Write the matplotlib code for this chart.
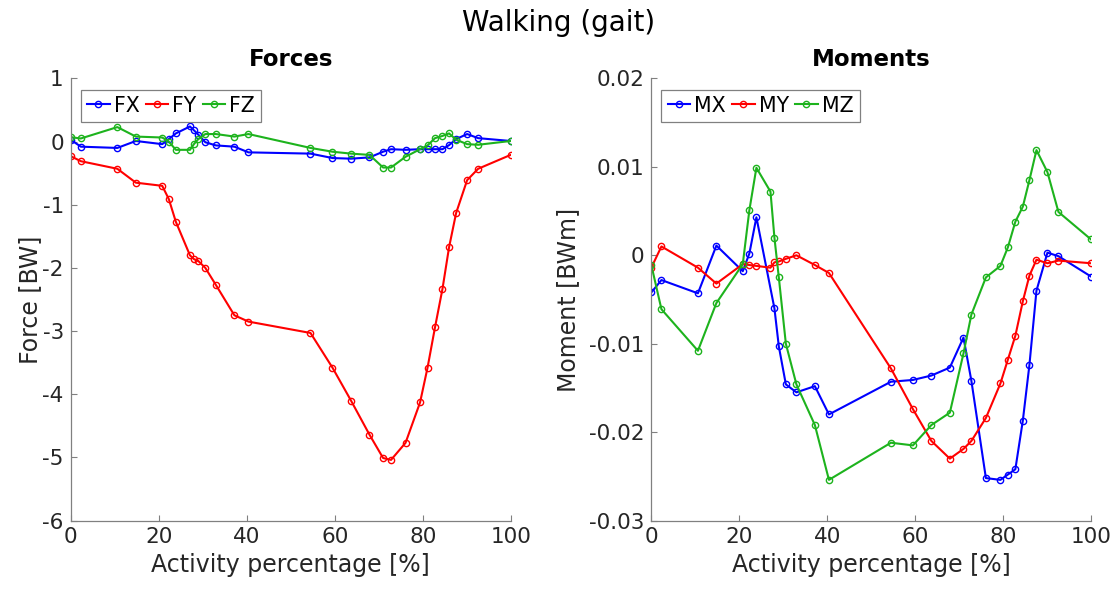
import numpy as np
import matplotlib.pyplot as plt

plt.rcParams['font.family'] = ['DejaVu Sans']
plt.rcParams['axes.unicode_minus'] = False

# activity percentage of each sample in the gait cycle
pct = [0, 2.3, 10.6, 14.8, 20.8, 22.3, 23.9, 27.1, 28.0, 29.0, 30.6, 33.0, 37.2, 40.4,
       54.5, 59.5, 63.7, 67.9, 71.0, 72.8, 76.1, 79.4, 81.1, 82.8, 84.5, 86.0, 87.6,
       90.1, 92.6, 100]
# MX has no sample at 27.1 %
pct_mx = [p for p in pct if p != 27.1]

# forces [BW]
fx = [0.03, -0.08, -0.10, 0.01, -0.04, 0.04, 0.13, 0.24, 0.18, 0.11, -0.01, -0.06, -0.08,
      -0.17, -0.19, -0.26, -0.27, -0.25, -0.16, -0.12, -0.13, -0.12, -0.12, -0.12, -0.12,
      -0.055, 0.04, 0.12, 0.055, 0.01]
fy = [-0.23, -0.31, -0.43, -0.65, -0.70, -0.91, -1.27, -1.80, -1.86, -1.89, -2.00, -2.27,
      -2.75, -2.85, -3.03, -3.58, -4.10, -4.64, -5.01, -5.04, -4.77, -4.13, -3.58, -2.94,
      -2.33, -1.67, -1.13, -0.61, -0.43, -0.21]
fz = [0.07, 0.05, 0.23, 0.08, 0.065, 0.0, -0.13, -0.13, -0.04, 0.04, 0.12, 0.12, 0.08,
      0.12, -0.10, -0.16, -0.19, -0.21, -0.41, -0.41, -0.24, -0.12, -0.06, 0.055, 0.09,
      0.13, 0.03, -0.04, -0.05, 0.01]

# moments [BWm]
mx = [-0.0042, -0.0028, -0.0043, 0.0011, -0.0018, 0.0002, 0.0043, -0.0060, -0.0103,
      -0.0146, -0.0155, -0.0148, -0.0180, -0.0143, -0.0141, -0.0136, -0.0127, -0.0093,
      -0.0142, -0.0252, -0.0254, -0.0248, -0.0242, -0.0187, -0.0124, -0.0040, 0.0003,
      -0.0001, -0.0024]
my = [-0.0014, 0.0010, -0.0014, -0.0032, -0.0010, -0.0011, -0.0012, -0.0014, -0.0008,
      -0.0007, -0.0004, 0.0000, -0.0011, -0.0020, -0.0128, -0.0174, -0.0210, -0.0230,
      -0.0219, -0.0210, -0.0184, -0.0145, -0.0118, -0.0091, -0.0052, -0.0023, -0.0005,
      -0.0009, -0.0006, -0.0009]
mz = [-0.0011, -0.0061, -0.0108, -0.0054, -0.0010, 0.0051, 0.0099, 0.0072, 0.0020,
      -0.0025, -0.0100, -0.0146, -0.0192, -0.0254, -0.0212, -0.0215, -0.0192, -0.0178,
      -0.0111, -0.0067, -0.0025, -0.0012, 0.0009, 0.0038, 0.0055, 0.0085, 0.0119, 0.0094,
      0.0049, 0.0018]

blue, red, green = '#0000ff', '#ff0000', '#1db31d'
txt = '#262626'
style = dict(marker='o', markersize=4.5, markerfacecolor='none', linewidth=1.5,
             markeredgewidth=1.0)


def setup(ax, ylim, yticks, ylabel, title, ypad):
    ax.set_xlim(0, 100)
    ax.set_ylim(*ylim)
    ax.set_xticks(range(0, 101, 20))
    ax.set_yticks(yticks)
    for s in ('top', 'right'):
        ax.spines[s].set_visible(False)
    for s in ('left', 'bottom'):
        ax.spines[s].set_color('#808080')
        ax.spines[s].set_linewidth(0.9)
    ax.tick_params(direction='in', length=4, width=0.8, color='#808080',
                   labelsize=15.5, labelcolor=txt, pad=5)
    ax.set_xlabel('Activity percentage [%]', fontsize=17, color=txt, labelpad=4)
    ax.set_ylabel(ylabel, fontsize=17, color=txt, labelpad=ypad)
    ax.set_title(title, fontsize=16.5, fontweight='bold', pad=9)
    leg = ax.legend(loc='upper left', bbox_to_anchor=(0.023, 0.975), borderaxespad=0,
                    ncol=3, fontsize=14.8, handlelength=1.1, handletextpad=0.2,
                    columnspacing=0.3, borderpad=0.3, fancybox=False,
                    framealpha=1, edgecolor='#808080')
    leg.get_frame().set_linewidth(0.9)


fig = plt.figure(figsize=(11.17, 5.99), dpi=100)
ax1 = fig.add_axes([0.0633, 0.131, 0.3939, 0.738])
ax2 = fig.add_axes([0.5831, 0.131, 0.3936, 0.738])

ax1.plot(pct, fx, color=blue, label='FX', **style)
ax1.plot(pct, fy, color=red, label='FY', **style)
ax1.plot(pct, fz, color=green, label='FZ', **style)
setup(ax1, (-6, 1), range(-6, 2), 'Force [BW]', 'Forces', 0)

ax2.plot(pct_mx, mx, color=blue, label='MX', **style)
ax2.plot(pct, my, color=red, label='MY', **style)
ax2.plot(pct, mz, color=green, label='MZ', **style)
setup(ax2, (-0.03, 0.02), np.round(np.arange(-0.03, 0.021, 0.01), 2),
      'Moment [BWm]', 'Moments', 6)
ax2.set_yticklabels(['-0.03', '-0.02', '-0.01', '0', '0.01', '0.02'])

fig.suptitle('Walking (gait)', fontsize=20, y=0.985)

fig.savefig('out.png', dpi=100)
